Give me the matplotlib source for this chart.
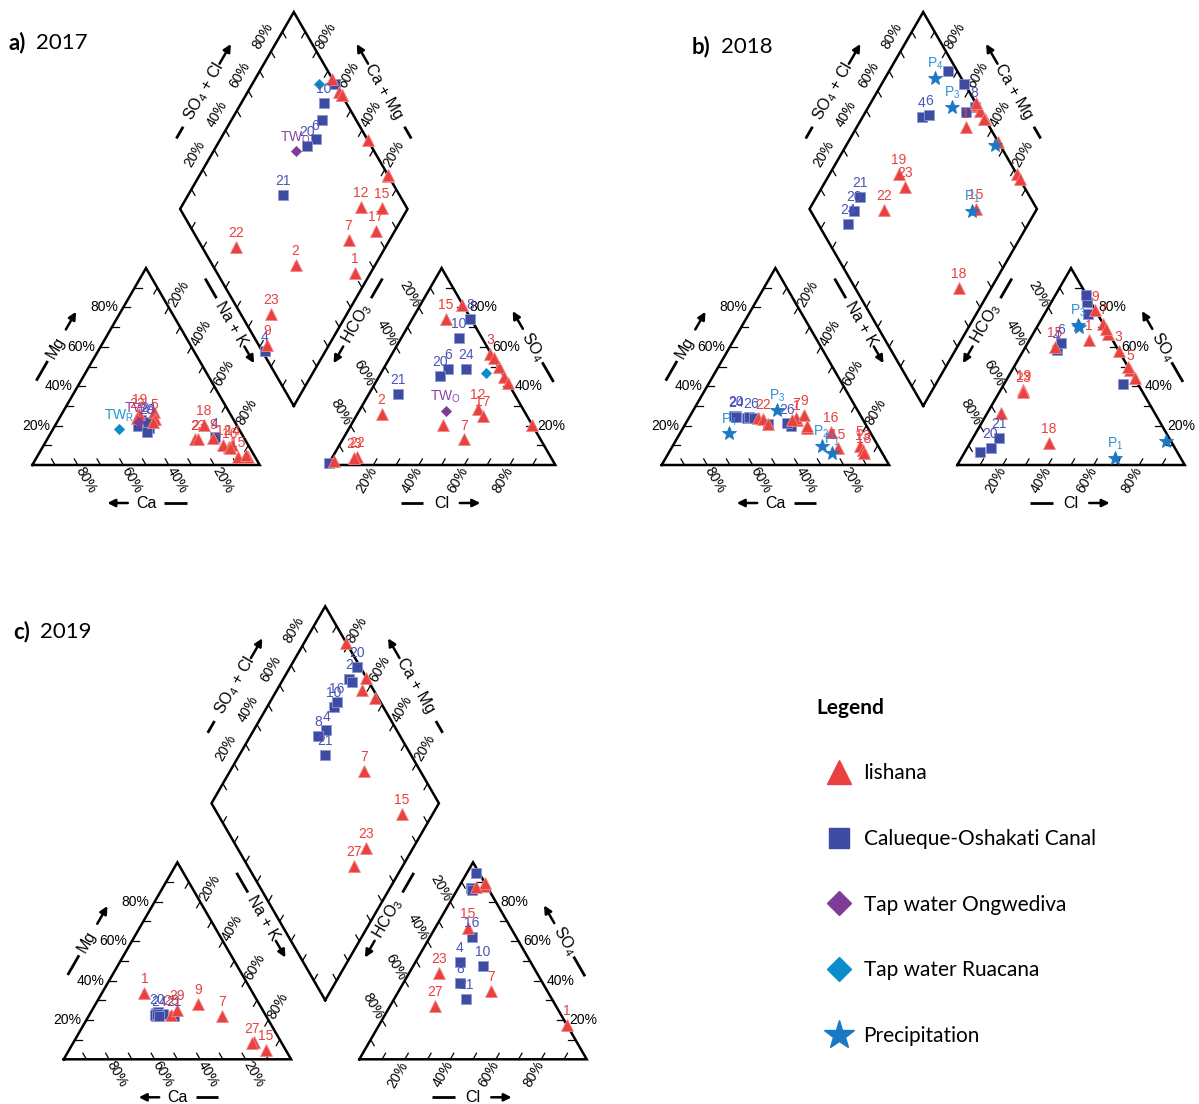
import numpy as np
import matplotlib.pyplot as plt
from matplotlib.lines import Line2D

plt.rcParams['font.family'] = ['Liberation Sans', 'DejaVu Sans']
plt.rcParams['mathtext.default'] = 'regular'

H = np.sqrt(3) / 2
GAP = 0.3
SCALE = 227.4          # pixels per triangle side
FIG_W, FIG_H = 1199, 1104

RED = '#E8413F'
BLUE = '#3D4CA0'
BLUE_TXT = '#4B55B8'
PURPLE = '#7E3D98'
CYAN = '#0B8DC9'
STAR = '#1B78C4'
STAR_TXT = '#2E90D8'

# percent of meq; "show" says where the label is written:
# c = cation triangle, a = anion triangle, d = diamond

# ---------------- 2017 ----------------
a_ish_lab = ['1', '2', '3', '5', '7', '9', '11', '12', '14', '15', '16', '17', '18', '19', '22', '23']
a_ish_show = ['d', 'cad', 'a', 'c', 'ad', 'cd', '', 'cad', 'c', 'cad', 'c', 'ad', 'c', 'c', 'cad', 'cad']
a_ish_ca = [3, 22, 33, 34.4, 9, 13.6, 36, 11, 7, 7.5, 8.8, 3.4, 14.5, 40, 41.8, 20.5]
a_ish_mg = [4, 13, 27, 23.6, 9, 13.5, 22, 10, 10, 4.1, 8.6, 5, 20.3, 26, 24, 13]
a_ish_cl = [40.4, 10.7, 42.9, 50.1, 53.2, 1.7, 45.8, 51.6, 55.2, 15, 58.5, 55.5, 79.7, 18.4, 10.8, 9.6]
a_ish_so4 = [20.3, 25.8, 56.6, 49.9, 13, 2, 54.2, 28.4, 44.8, 74, 41.5, 25, 20.3, 81.4, 4.2, 3.7]

a_can_lab = ['4', '6', '8', '10', '20', '21', '24']
a_can_show = ['cd', 'ad', 'a', 'ad', 'cad', 'ad', 'ca']
a_can_ca = [12.7, 39.1, 43.7, 40.8, 39, 41.2, 38.3]
a_can_mg = [14, 19, 20, 23, 21, 17, 22]
a_can_cl = [0.2, 28.2, 25.6, 25.3, 26.5, 12.5, 36.4]
a_can_so4 = [0.8, 49, 74, 64.7, 45.3, 36.3, 48.6]

a_two_ca, a_two_mg, a_two_cl, a_two_so4 = [42.1], [21.6], [38.1], [27.4]
a_twr_ca, a_twr_mg, a_twr_cl, a_twr_so4 = [52.7], [18.1], [46.1], [46.5]

# ---------------- 2018 ----------------
b_ish_lab = ['1', '3', '5', '7', '9', '11', '13', '15', '16', '17', '18', '19', '22', '23']
b_ish_show = ['cad', 'a', 'ca', 'ca', 'ca', '', 'c', 'cad', 'c', '', 'cad', 'ad', 'cd', 'ad']
b_ish_ca = [29, 26.6, 8.1, 29, 24.7, 25.9, 7.7, 18.4, 17.2, 31.2, 8.3, 45.6, 43.5, 43]
b_ish_mg = [23, 18.9, 9.6, 24, 25.3, 20, 7.6, 8.4, 16.9, 22.8, 5.9, 24, 23.6, 20.6]
b_ish_cl = [26.1, 42, 51.8, 28.2, 21.5, 32.9, 56, 13, 50, 30.7, 34.8, 10, 6.1, 10.3]
b_ish_so4 = [63.3, 58, 48.2, 71.8, 78.5, 66.7, 44, 60, 50, 69.3, 11, 38, 26.2, 37.2]

b_can_lab = ['2', '4', '6', '8', '10', '20', '21', '24', '26']
b_can_show = ['c', 'ad', 'cad', 'd', '', 'cad', 'ad', 'cd', 'c']
b_can_ca = [50.4, 49.7, 47.3, 33.4, 42.7, 55, 55.8, 55, 34.5]
b_can_mg = [24, 24.2, 24, 19.9, 21, 25, 25, 24.5, 21.1]
b_can_cl = [18.9, 14.5, 14.9, 15.8, 13.6, 10.2, 11.4, 6.7, 52.4]
b_can_so4 = [76.9, 58.3, 61.7, 82.8, 86.1, 8.8, 13.9, 6.4, 41.1]

b_pre_lab = ['P$_1$', 'P$_2$', 'P$_3$', 'P$_4$']
b_pre_show = ['cad', 'c', 'cad', 'cd']
b_pre_ca = [22, 24.8, 35.5, 62.2]
b_pre_mg = [5.9, 9.8, 27.9, 16]
b_pre_cl = [67.4, 85.7, 17.6, 18.5]
b_pre_so4 = [3.7, 12.3, 71, 70]

# ---------------- 2019 ----------------
c_ish_lab = ['1', '7', '9', '15', '23', '25', '27', '29']
c_ish_show = ['ca', 'cad', 'c', 'cad', 'ad', 'c', 'cad', 'c']
c_ish_ca = [47.6, 19.1, 26.9, 8.8, 11.6, 41.4, 13.1, 37.5]
c_ish_mg = [33.9, 22.2, 28, 4.7, 9, 22.5, 8.5, 25.1]
c_ish_cl = [82.6, 40.4, 10.8, 14.5, 13.1, 10.2, 19.7, 7.3]
c_ish_so4 = [17.4, 34.8, 88, 66.5, 43.7, 89.7, 27.1, 87.7]

c_can_lab = ['2', '4', '8', '10', '16', '20', '21', '24']
c_can_show = ['d', 'ad', 'ad', 'ad', 'ad', 'cd', 'cad', 'c']
c_can_ca = [47.5, 45, 48.2, 48.4, 46.5, 47.6, 40.4, 47]
c_can_mg = [23.5, 23, 22, 22.5, 24, 23, 22.2, 22]
c_can_cl = [5.5, 19.4, 24.9, 30.7, 18.4, 4.2, 31.5, 6.6]
c_can_so4 = [86.8, 49.6, 38.9, 47.5, 62.3, 94.5, 30.5, 86]

legend_labels = ['Iishana', 'Calueque-Oshakati Canal', 'Tap water Ongwediva',
                 'Tap water Ruacana', 'Precipitation']


def px(v):
    return v / SCALE


def cation_xy(ca, mg):
    nak = 100 - ca - mg
    return (nak + 0.5 * mg) / 100, H * mg / 100


def anion_xy(cl, so4):
    return 1 + GAP + (cl + 0.5 * so4) / 100, H * so4 / 100


def diamond_xy(ca, mg, cl, so4):
    cm = (ca + mg) / 100
    an = (cl + so4) / 100
    return 1 + GAP / 2 + 0.5 * (an - cm), H * (GAP + cm + an)


def axis_title(ax, p0, p1, normal, dist, text, rot, t_text, dash, arrow):
    p0, p1 = np.array(p0), np.array(p1)
    n = np.array(normal) * px(dist)

    def pos(t):
        return p0 + t * (p1 - p0) + n
    tx, ty = pos(t_text)
    ax.text(tx, ty, text, rotation=rot, ha='center', va='center', fontsize=11.5)
    d0, d1 = pos(dash[0]), pos(dash[1])
    ax.plot([d0[0], d1[0]], [d0[1], d1[1]], color='k', lw=2, solid_capstyle='butt')
    ax.annotate('', xy=pos(arrow[1]), xytext=pos(arrow[0]),
                arrowprops=dict(arrowstyle='-|>', color='k', lw=1.8,
                                mutation_scale=11, shrinkA=0, shrinkB=0))


def draw_frame(ax):
    bx, by = 1 + GAP / 2, GAP * H
    kw = dict(color='k', lw=1.8, solid_joinstyle='miter')
    ax.plot([0, 1, 0.5, 0], [0, 0, H, 0], **kw)
    ax.plot([1 + GAP, 2 + GAP, 1.5 + GAP, 1 + GAP], [0, 0, H, 0], **kw)
    ax.plot([bx, bx - 0.5, bx, bx + 0.5, bx], [by, by + H, by + 2 * H, by + H, by], **kw)

    tl = px(7)

    def tick(x, y, d):
        ax.plot([x, x + d[0] * tl], [y, y + d[1] * tl], color='k', lw=0.9)

    for i in range(1, 10):
        f = i / 10
        tick(f, 0, (-0.5, H))
        tick(0.5 * f, H * f, (1, 0))
        tick(0.5 + 0.5 * f, H * (1 - f), (-0.5, -H))
        tick(1 + GAP + f, 0, (0.5, H))
        tick(1 + GAP + 0.5 * f, H * f, (0.5, -H))
        tick(2 + GAP - 0.5 * f, H * f, (-1, 0))
        tick(bx - 0.5 + 0.5 * f, by + H + H * f, (0.5, -H))
        tick(bx + 0.5 - 0.5 * f, by + H + H * f, (-0.5, -H))
        tick(bx - 0.5 * f, by + H * f, (0.5, H))
        tick(bx + 0.5 * f, by + H * f, (-0.5, H))

    fs = 10
    for v in (20, 40, 60, 80):
        f = v / 100
        s = f'{v}%'
        ax.text(0.5 * f - px(5), H * f, s, ha='right', va='center', fontsize=fs)
        ax.text(0.5 + 0.5 * f + px(2.6), H * (1 - f) + px(1.5), s, rotation=60,
                rotation_mode='anchor', ha='left', va='center', fontsize=fs)
        ax.text(1 - f + px(1), -px(3), s, rotation=-60, rotation_mode='anchor',
                ha='left', va='center', fontsize=fs)
        ax.text(1 + GAP + 0.5 * (1 - f) - px(2.6), H * (1 - f) + px(1.5), s, rotation=-60,
                rotation_mode='anchor', ha='right', va='center', fontsize=fs)
        ax.text(2 + GAP - 0.5 * f + px(5), H * f, s, ha='left', va='center', fontsize=fs)
        ax.text(1 + GAP + f, -px(3), s, rotation=60, rotation_mode='anchor',
                ha='right', va='center', fontsize=fs)
        ax.text(bx - 0.5 + 0.5 * f - px(8.5), by + H + H * f + px(16), s, rotation=60,
                ha='center', va='center', fontsize=fs)
        ax.text(bx + 0.5 - 0.5 * f + px(9), by + H + H * f + px(16), s, rotation=60,
                ha='center', va='center', fontsize=fs)

    axis_title(ax, (0, 0), (0.5, H), (-H, 0.5), 38.7, 'Mg', 60, 0.5, (0.33, 0.43), (0.59, 0.68))
    axis_title(ax, (0, 0), (1, 0), (0, -1), 38, 'Ca', 0, 0.5, (0.58, 0.68), (0.42, 0.33))
    axis_title(ax, (0.5, H), (1, 0), (H, 0.5), 46, 'Na + K', -60, 0.40, (0.17, 0.27), (0.515, 0.60))
    axis_title(ax, (1 + GAP, 0), (2 + GAP, 0), (0, -1), 38, 'Cl', 0, 0.5, (0.32, 0.42), (0.58, 0.67))
    axis_title(ax, (2 + GAP, 0), (1.5 + GAP, H), (H, 0.5), 40, 'SO$_4$', -60, 0.5, (0.32, 0.42), (0.59, 0.68))
    axis_title(ax, (1.5 + GAP, H), (1 + GAP, 0), (-H, 0.5), 46, 'HCO$_3$', 60, 0.40, (0.17, 0.27), (0.515, 0.60))
    axis_title(ax, (bx - 0.5, by + H), (bx, by + 2 * H), (-H, 0.5), 38.5, 'SO$_4$ + Cl', 60, 0.5,
               (0.26, 0.32), (0.64, 0.74))
    axis_title(ax, (bx + 0.5, by + H), (bx, by + 2 * H), (H, 0.5), 38.5, 'Ca + Mg', -60, 0.5,
               (0.26, 0.32), (0.64, 0.74))


def piper_axes(fig, ox, oy):
    x0, x1 = -0.12, 2.45
    y0, y1 = -0.25, (2 + GAP) * H + 0.04
    rect = [(ox + x0 * SCALE) / FIG_W, 1 - (oy - y0 * SCALE) / FIG_H,
            (x1 - x0) * SCALE / FIG_W, (y1 - y0) * SCALE / FIG_H]
    ax = fig.add_axes(rect)
    ax.set_xlim(x0, x1)
    ax.set_ylim(y0, y1)
    ax.axis('off')
    draw_frame(ax)
    return ax


def plot_group(ax, ca, mg, cl, so4, labels, show, marker, color, ms, txtcolor, edge):
    ca, mg, cl, so4 = map(np.asarray, (ca, mg, cl, so4))
    pts = {'c': cation_xy(ca, mg), 'a': anion_xy(cl, so4), 'd': diamond_xy(ca, mg, cl, so4)}
    for key, (x, y) in pts.items():
        ax.plot(x, y, ls='none', marker=marker, color=color, ms=ms, mec=edge,
                mew=0.6, clip_on=False, zorder=3)
        for xi, yi, lab, where in zip(x, y, labels, show):
            if key in where:
                ax.annotate(lab, (xi, yi), xytext=(0, 10), textcoords='offset points',
                            ha='center', va='center', color=txtcolor, fontsize=10, zorder=4)


fig = plt.figure(figsize=(FIG_W / 100, FIG_H / 100), dpi=100)

ax_a = piper_axes(fig, 32.3, 465)
plot_group(ax_a, a_can_ca, a_can_mg, a_can_cl, a_can_so4, a_can_lab, a_can_show,
           's', BLUE, 7.2, BLUE_TXT, '#8E98D8')
plot_group(ax_a, a_ish_ca, a_ish_mg, a_ish_cl, a_ish_so4, a_ish_lab, a_ish_show,
           '^', RED, 8.5, RED, '#F08A88')
plot_group(ax_a, a_two_ca, a_two_mg, a_two_cl, a_two_so4, ['TW$_O$'], ['cad'],
           'D', PURPLE, 5.5, '#8B45A6', PURPLE)
plot_group(ax_a, a_twr_ca, a_twr_mg, a_twr_cl, a_twr_so4, ['TW$_R$'], ['c'],
           'D', CYAN, 5.5, '#1E96D2', CYAN)

ax_b = piper_axes(fig, 661.7, 465)
plot_group(ax_b, b_can_ca, b_can_mg, b_can_cl, b_can_so4, b_can_lab, b_can_show,
           's', BLUE, 7.2, BLUE_TXT, '#8E98D8')
plot_group(ax_b, b_ish_ca, b_ish_mg, b_ish_cl, b_ish_so4, b_ish_lab, b_ish_show,
           '^', RED, 8.5, RED, '#F08A88')
plot_group(ax_b, b_pre_ca, b_pre_mg, b_pre_cl, b_pre_so4, b_pre_lab, b_pre_show,
           '*', STAR, 10, STAR_TXT, STAR)

ax_c = piper_axes(fig, 63.7, 1059.3)
plot_group(ax_c, c_can_ca, c_can_mg, c_can_cl, c_can_so4, c_can_lab, c_can_show,
           's', BLUE, 7.2, BLUE_TXT, '#8E98D8')
plot_group(ax_c, c_ish_ca, c_ish_mg, c_ish_cl, c_ish_so4, c_ish_lab, c_ish_show,
           '^', RED, 8.5, RED, '#F08A88')

# panel titles
for x_b, x_y, y, letter, year in [(8.4, 36.4, 43, 'a)', '2017'),
                                  (691.7, 721.5, 46.7, 'b)', '2018'),
                                  (13.4, 40.2, 631.7, 'c)', '2019')]:
    fig.text(x_b / FIG_W, 1 - y / FIG_H, letter, fontsize=16, fontweight='bold',
             family='Lato', va='center', ha='left')
    fig.text(x_y / FIG_W, 1 - y / FIG_H, year, fontsize=16, family='Lato',
             va='center', ha='left')

# legend
fig.text(816 / FIG_W, 1 - 708 / FIG_H, 'Legend', fontsize=15, fontweight='bold',
         family='Lato', va='center', ha='left')
handles = [Line2D([], [], ls='none', marker='^', ms=17, color=RED),
           Line2D([], [], ls='none', marker='s', ms=14, color=BLUE),
           Line2D([], [], ls='none', marker='D', ms=12, color=PURPLE),
           Line2D([], [], ls='none', marker='D', ms=12, color=CYAN),
           Line2D([], [], ls='none', marker='*', ms=22, color=STAR)]
fig.legend(handles, legend_labels, loc='upper left',
           bbox_to_anchor=(826 / FIG_W, 1 - 763 / FIG_H), frameon=False,
           prop={'family': 'Lato', 'size': 15}, labelspacing=2.2, handlelength=1.2,
           handletextpad=0.6, borderpad=0, borderaxespad=0)

fig.savefig('out.png', dpi=100, facecolor='white')
